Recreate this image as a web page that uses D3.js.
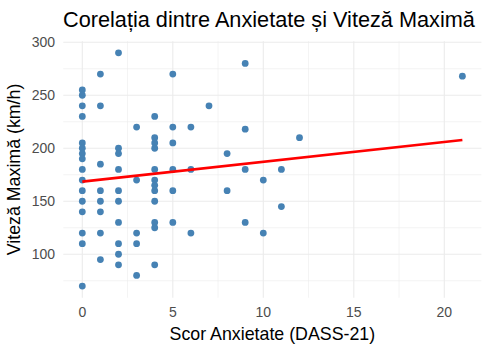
<!DOCTYPE html>
<html>
<head>
<meta charset="utf-8">
<script src="https://cdn.jsdelivr.net/npm/d3@7"></script>
<style>
    body { margin: 0; background: #ffffff; }
    svg { display: block; font-family: "Liberation Sans", Arial, sans-serif; }
</style>
</head>
<body>
<div id="chart"></div>
<script>
// Anxiety score (x) and max speed (y)
const anxietyScores = [
    0, 0, 0, 0, 0, 0, 0, 0, 0, 0, 0, 0, 0, 0, 0, 0,
    1, 1, 1, 1, 1, 1, 1, 1,
    2, 2, 2, 2, 2, 2, 2, 2, 2, 2,
    3, 3, 3, 3, 3,
    4, 4, 4, 4, 4, 4, 4, 4, 4, 4, 4, 4,
    5, 5, 5, 5, 5, 5,
    6, 6, 6,
    7,
    8, 8,
    9, 9, 9, 9,
    10, 10,
    11, 11,
    12,
    21
];
const maxSpeeds = [
    255, 250, 240, 230, 205, 200, 195, 190, 180, 170, 160, 150, 140, 120, 110, 70,
    270, 240, 185, 160, 150, 140, 120, 95,
    290, 200, 195, 180, 160, 150, 130, 110, 100, 90,
    220, 170, 120, 110, 80,
    230, 210, 205, 200, 180, 170, 165, 160, 150, 130, 125, 90,
    270, 220, 205, 180, 160, 130,
    220, 180, 120,
    240,
    195, 160,
    280, 218, 180, 130,
    170, 120,
    180, 145,
    210,
    268
];
// fitted line (lm) end points as drawn in the picture
const fitX = [0, 21];
const fitY = [168.5, 207.8];

const xMajor = [0, 5, 10, 15, 20];
const xMinor = [2.5, 7.5, 12.5, 17.5];
const yMajor = [100, 150, 200, 250, 300];
const yMinor = [75, 125, 175, 225, 275];

document.addEventListener('DOMContentLoaded', function() {
    const width = 491;
    const height = 353;

    const svg = d3.select("#chart")
        .append("svg")
        .attr("width", width)
        .attr("height", height);

    const x = d3.scaleLinear().domain([-1.05, 22.05]).range([63.3, 481.4]);
    const y = d3.scaleLinear().domain([59, 301]).range([297.7, 41.2]);

    const gridColor = "#ebebeb";

    // minor grid
    svg.append("g").selectAll("line.xm")
        .data(xMinor).enter().append("line")
        .attr("x1", d => x(d)).attr("x2", d => x(d))
        .attr("y1", y.range()[1]).attr("y2", y.range()[0])
        .attr("stroke", gridColor).attr("stroke-width", 0.6);
    svg.append("g").selectAll("line.ym")
        .data(yMinor).enter().append("line")
        .attr("x1", x.range()[0]).attr("x2", x.range()[1])
        .attr("y1", d => y(d)).attr("y2", d => y(d))
        .attr("stroke", gridColor).attr("stroke-width", 0.6);

    // major grid
    svg.append("g").selectAll("line.xM")
        .data(xMajor).enter().append("line")
        .attr("x1", d => x(d)).attr("x2", d => x(d))
        .attr("y1", y.range()[1]).attr("y2", y.range()[0])
        .attr("stroke", gridColor).attr("stroke-width", 1.1);
    svg.append("g").selectAll("line.yM")
        .data(yMajor).enter().append("line")
        .attr("x1", x.range()[0]).attr("x2", x.range()[1])
        .attr("y1", d => y(d)).attr("y2", d => y(d))
        .attr("stroke", gridColor).attr("stroke-width", 1.1);

    // tick labels
    svg.append("g").selectAll("text")
        .data(xMajor).enter().append("text")
        .attr("x", d => x(d)).attr("y", 317)
        .attr("text-anchor", "middle")
        .attr("font-size", 14).attr("fill", "#4d4d4d")
        .text(d => d);
    svg.append("g").selectAll("text")
        .data(yMajor).enter().append("text")
        .attr("x", 55).attr("y", d => y(d) + 5)
        .attr("text-anchor", "end")
        .attr("font-size", 14).attr("fill", "#4d4d4d")
        .text(d => d);

    // points
    const points = anxietyScores.map((v, i) => ({ x: v, y: maxSpeeds[i] }));
    svg.append("g").selectAll("circle")
        .data(points).enter().append("circle")
        .attr("cx", d => x(d.x))
        .attr("cy", d => y(d.y))
        .attr("r", 3.4)
        .attr("fill", "steelblue");

    // regression line
    const line = d3.line().x(d => x(d[0])).y(d => y(d[1]));
    svg.append("path")
        .datum(fitX.map((v, i) => [v, fitY[i]]))
        .attr("d", line)
        .attr("fill", "none")
        .attr("stroke", "red")
        .attr("stroke-width", 2.7);

    // titles
    svg.append("text")
        .attr("x", 63).attr("y", 27)
        .attr("font-size", 21.7).attr("fill", "#000")
        .text("Corelația dintre Anxietate și Viteză Maximă");

    svg.append("text")
        .attr("x", x(10.5)).attr("y", 340)
        .attr("text-anchor", "middle")
        .attr("font-size", 17.8).attr("fill", "#000")
        .text("Scor Anxietate (DASS-21)");

    svg.append("text")
        .attr("transform", `translate(20, ${(y.range()[0] + y.range()[1]) / 2}) rotate(-90)`)
        .attr("text-anchor", "middle")
        .attr("font-size", 17.8).attr("fill", "#000")
        .text("Viteză Maximă (km/h)");
});
</script>
</body>
</html>
